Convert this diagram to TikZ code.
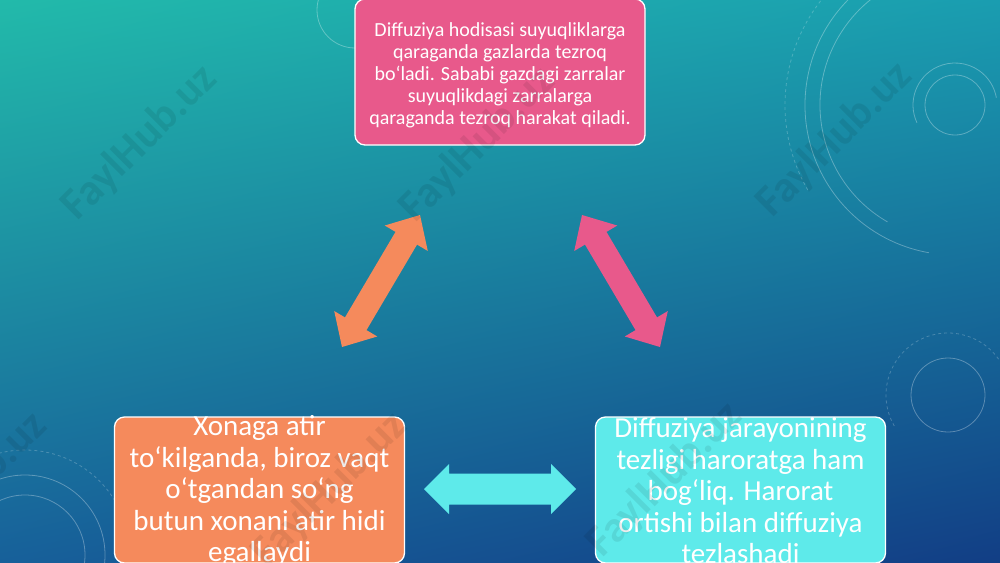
\documentclass[tikz,border=0pt]{standalone}
\usepackage{fontspec}
\setmainfont{Carlito}
\usetikzlibrary{calc,shadings}
\definecolor{pinkc}{HTML}{E8598B}
\definecolor{orangec}{HTML}{F58A5C}
\definecolor{cyanc}{HTML}{5EEAEA}
\definecolor{bgtl}{HTML}{22BAAA}
\definecolor{bgtr}{HTML}{1A9DB0}
\definecolor{bgbl}{HTML}{17609A}
\definecolor{bgbr}{HTML}{123E85}
% #1 colour, #2 start, #3 end, #4 head length, #5 head half width, #6 shaft half width
\newcommand\blockarrow[6]{%
  \coordinate (ha) at ($(#2)!#4!(#3)$);
  \coordinate (hb) at ($(#3)!#4!(#2)$);
  \fill[#1] (#2) -- ($(ha)!#5!90:(#3)$) -- ($(ha)!#6!90:(#3)$)
    -- ($(hb)!#6!-90:(#2)$) -- ($(hb)!#5!-90:(#2)$) -- (#3)
    -- ($(hb)!#5!90:(#2)$) -- ($(hb)!#6!90:(#2)$)
    -- ($(ha)!#6!-90:(#3)$) -- ($(ha)!#5!-90:(#3)$) -- cycle;}
\begin{document}
\begin{tikzpicture}[x=1pt,y=-1pt,
  box/.style={draw=white, line width=1.3pt, rounded corners=10pt,
    minimum width=290pt, minimum height=146pt, inner sep=0pt},
  smalltext/.style={text=white, align=center, font=\fontsize{20}{22}\selectfont},
  bigtext/.style={text=white, align=center, font=\fontsize{29}{31.5}\selectfont},
  wm/.style={text=black, opacity=0.08, font=\bfseries\fontsize{44}{44}\selectfont, rotate=45},
  deco/.style={draw=white, opacity=0.3, line width=0.8pt}]
\useasboundingbox (0,0) rectangle (1000,562);
\clip (0,0) rectangle (1000,562);
\shade[upper left=bgtl, upper right=bgtr, lower left=bgbl, lower right=bgbr] (0,0) rectangle (1000,562);
% decorations
\draw[deco] (955,105) circle (30);
\draw[deco] ([shift={(155:42)}]955,105) arc (155:350:42);
\draw[deco] ([shift={(120:135)}]955,105) arc (120:300:135);
\draw[deco] ([shift={(100:150)}]955,105) arc (100:330:150);
\draw[deco, dashed, opacity=0.22] ([shift={(150:170)}]955,105) arc (150:260:170);
\draw[deco] (948,395) circle (37);
\draw[deco, dashed, opacity=0.22] ([shift={(150:62)}]948,395) arc (150:330:62);
\draw[deco] (25,555) circle (60);
\draw[deco] (25,555) circle (80);
\draw[deco, dashed, opacity=0.22] ([shift={(190:105)}]25,555) arc (190:330:105);
\draw[deco] (355,10) circle (38);
% boxes
\node[box, fill=pinkc] (top) at (500,72) {};
\node[smalltext] (toptext) at (500,75) {Diffuziya hodisasi suyuqliklarga\\qaraganda gazlarda tezroq\\bo‘ladi. Sababi gazdagi zarralar\\suyuqlikdagi zarralarga\\qaraganda tezroq harakat qiladi.};
\node[box, fill=orangec] (left) at (259.5,490) {};
\node[bigtext] (lefttext) at (259.5,491) {Xonaga atir\\to‘kilganda, biroz vaqt\\o‘tgandan so‘ng\\butun xonani atir hidi\\egallaydi};
\node[box, fill=cyanc] (right) at (740.5,490) {};
\node[bigtext] (righttext) at (740.5,491) {Diffuziya jarayonining\\tezligi haroratga ham\\bog‘liq. Harorat\\ortishi bilan diffuziya\\tezlashadi};
% arrows
\coordinate (oa) at (342,347);
\coordinate (ob) at (420,215);
\coordinate (pa) at (582,215);
\coordinate (pb) at (660,347);
\coordinate (ca) at (424,489);
\coordinate (cb) at (576,489);
\blockarrow{orangec}{oa}{ob}{27pt}{25pt}{12.5pt}
\blockarrow{pinkc}{pa}{pb}{27pt}{25pt}{12.5pt}
\blockarrow{cyanc}{ca}{cb}{25pt}{25pt}{15.5pt}
% watermarks
\node[wm] (w1) at (140,143) {FaylHub.uz};
\node[wm] (w2) at (478,145) {FaylHub.uz};
\node[wm] (w3) at (835,140) {FaylHub.uz};
\node[wm] (w4) at (-30,490) {FaylHub.uz};
\node[wm] (w5) at (330,490) {FaylHub.uz};
\node[wm] (w6) at (665,480) {FaylHub.uz};
\end{tikzpicture}
\end{document}
